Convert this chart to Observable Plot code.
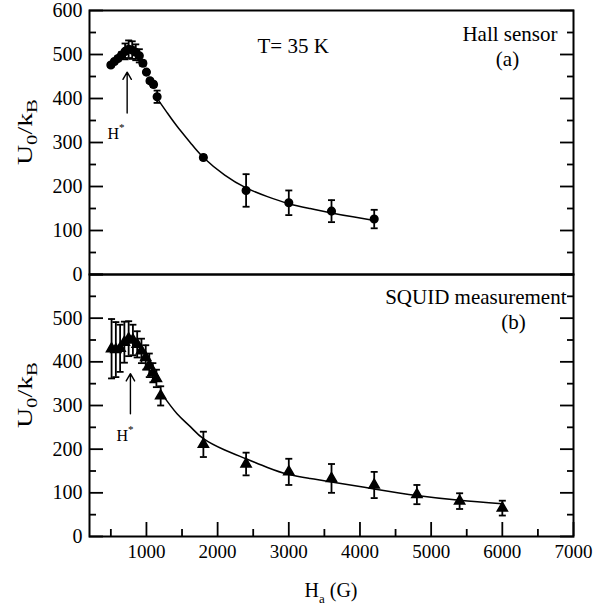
<!DOCTYPE html>
<html><head><meta charset="utf-8">
<script src="https://cdn.jsdelivr.net/npm/d3@7"></script>
<script src="https://cdn.jsdelivr.net/npm/@observablehq/plot@0.6"></script>
<style>
html,body{margin:0;padding:0;background:#fff;}
#chart{position:relative;width:611px;height:607px;background:#fff;}
#chart svg{position:absolute;left:0;}
#chart svg, #chart svg text{font-family:"Liberation Serif","Times New Roman",serif !important;}
</style></head><body><div id="chart"></div>
<script>
// ---- data ----
const hallH   = [500, 550, 600, 650, 700, 750, 800, 850, 900, 950, 1000, 1050, 1100, 1150, 1800, 2400, 3000, 3600, 4200];
const hallU   = [476, 484, 491, 499, 507, 512, 510, 505, 497, 480, 460, 440, 432, 404, 266, 191, 163, 144, 126];
const hallErr = [4, 4, 5, 6, 18, 20, 20, 18, 15, 6, 5, 5, 6, 14, 5, 37, 28, 25, 21];
const hallFitH = [1160, 1290, 1430, 1620, 1800, 2100, 2400, 2700, 3000, 3300, 3600, 3900, 4200];
const hallFitU = [398, 368, 337, 299, 266, 226, 197, 177, 161, 150, 140, 131, 123];

const squidH   = [510, 570, 630, 690, 750, 810, 870, 930, 990, 1040, 1090, 1140, 1200, 1800, 2400, 3000, 3600, 4200, 4800, 5400, 6000];
const squidU   = [430, 428, 431, 445, 453, 450, 440, 425, 410, 392, 375, 362, 322, 211, 166, 148, 133, 118, 96, 81, 65];
const squidErr = [68, 63, 54, 47, 40, 35, 30, 28, 28, 27, 22, 20, 22, 29, 26, 30, 33, 30, 22, 18, 17];
const squidFitH = [1200, 1430, 1620, 1800, 2100, 2400, 2700, 3000, 3300, 3600, 4200, 4800, 5400, 6000];
const squidFitU = [330, 281, 251, 224, 198, 178, 158, 142, 133, 125, 109, 94, 83, 75];

const xDomain = [200, 7000];
const yDomain = [0, 600];
const xMajor = [1000, 2000, 3000, 4000, 5000, 6000, 7000];
const xMinor = [500, 1500, 2500, 3500, 4500, 5500, 6500];
const yMajor = [0, 100, 200, 300, 400, 500, 600];
const yMinor = [50, 150, 250, 350, 450, 550];
const topYLabels = [0, 100, 200, 300, 400, 500, 600];
const bottomYLabels = [0, 100, 200, 300, 400, 500];

const tempLabel = ["T= 35 K"];
const topLabels = ["Hall sensor"];
const topTag = ["(a)"];
const bottomLabels = ["SQUID measurement"];
const bottomTag = ["(b)"];

// H* annotations: arrow (x, tail, head) and label anchor (x, y) in data units
const topArrow = [{x: 729, y1: 367, y2: 460}];
const bottomArrow = [{x: 775, y1: 281, y2: 373}];
const topHStar = {x: 579, y: 307};
const bottomHStar = {x: 705, y: 218};

// ---- tables ----
const hall = hallH.map((h, i) => ({h, u: hallU[i], e: hallErr[i]}));
const hallFit = hallFitH.map((h, i) => ({h, u: hallFitU[i]}));
const squid = squidH.map((h, i) => ({h, u: squidU[i], e: squidErr[i]}));
const squidFit = squidFitH.map((h, i) => ({h, u: squidFitU[i]}));

const FONT = "'Liberation Serif', 'Times New Roman', serif";
const fmt = d => String(d);
const cap = {draw(ctx, size) { const w = Math.sqrt(size / Math.PI); ctx.moveTo(-w, 0); ctx.lineTo(w, 0); }};

function frameAxes(labels) {
  const none = () => null;
  return [
    Plot.axisY({anchor: "left", ticks: yMajor, tickSize: -14, tickFormat: none, strokeWidth: 1.8, label: null}),
    Plot.axisY({anchor: "left", ticks: yMinor, tickSize: -7, tickFormat: none, strokeWidth: 1.8, label: null}),
    Plot.axisY({anchor: "right", ticks: yMajor, tickSize: -14, tickFormat: none, strokeWidth: 1.8, label: null}),
    Plot.axisY({anchor: "right", ticks: yMinor, tickSize: -7, tickFormat: none, strokeWidth: 1.8, label: null}),
    Plot.axisY({anchor: "left", ticks: labels, tickSize: 0, tickPadding: 7, tickFormat: fmt, fontSize: 20, fontFamily: FONT, label: null}),
    Plot.frame({stroke: "black", strokeWidth: 2})
  ];
}

function seriesMarks(data, fit, symbol, r) {
  return [
    Plot.line(fit, {x: "h", y: "u", curve: "natural", stroke: "black", strokeWidth: 1.5}),
    Plot.ruleX(data, {x: "h", y1: d => d.u - d.e, y2: d => d.u + d.e, stroke: "black", strokeWidth: 1.8}),
    Plot.dot(data, {x: "h", y: d => d.u - d.e, symbol: cap, r: 3.5, stroke: "black", strokeWidth: 1.8}),
    Plot.dot(data, {x: "h", y: d => d.u + d.e, symbol: cap, r: 3.5, stroke: "black", strokeWidth: 1.8}),
    Plot.dot(data, {x: "h", y: "u", symbol, r, fill: "black", stroke: "black"})
  ];
}

const txt = {fontSize: 21, fontFamily: FONT, fill: "black", lineAnchor: "top"};

const topPlot = Plot.plot({
  width: 611, height: 274,
  marginLeft: 89, marginRight: 38, marginTop: 10, marginBottom: 0,
  style: {fontFamily: FONT, fontSize: "19px", background: "transparent", overflow: "visible", color: "black"},
  x: {domain: xDomain, axis: null},
  y: {domain: yDomain, axis: null},
  marks: [
    ...seriesMarks(hall, hallFit, "circle", 3.8),
    Plot.arrow(topArrow, {x1: "x", x2: "x", y1: "y1", y2: "y2", stroke: "black", strokeWidth: 1.4, headLength: 9}),
    Plot.text(tempLabel, {...txt, text: d => d, frameAnchor: "top-left", textAnchor: "start", dx: 168, dy: 28}),
    Plot.text(topLabels, {...txt, text: d => d, frameAnchor: "top-right", textAnchor: "end", dx: -16, dy: 16}),
    Plot.text(topTag, {...txt, text: d => d, frameAnchor: "top-right", textAnchor: "middle", dx: -66, dy: 41}),
    ...frameAxes(topYLabels)
  ]
});

const bottomPlot = Plot.plot({
  width: 611, height: 333,
  marginLeft: 89, marginRight: 38, marginTop: 0, marginBottom: 71,
  style: {fontFamily: FONT, fontSize: "19px", background: "transparent", overflow: "visible", color: "black"},
  x: {domain: xDomain, axis: null},
  y: {domain: yDomain, axis: null},
  marks: [
    ...seriesMarks(squid, squidFit, "triangle", 3.8),
    Plot.arrow(bottomArrow, {x1: "x", x2: "x", y1: "y1", y2: "y2", stroke: "black", strokeWidth: 1.4, headLength: 9}),
    Plot.text(bottomLabels, {...txt, text: d => d, frameAnchor: "top-right", textAnchor: "end", dx: -7, dy: 15}),
    Plot.text(bottomTag, {...txt, text: d => d, frameAnchor: "top-right", textAnchor: "middle", dx: -60, dy: 40}),
    Plot.axisX({anchor: "bottom", ticks: xMajor, tickSize: -14, tickFormat: () => null, strokeWidth: 1.8, label: null}),
    Plot.axisX({anchor: "bottom", ticks: xMinor, tickSize: -7, tickFormat: () => null, strokeWidth: 1.8, label: null}),
    Plot.axisX({anchor: "bottom", ticks: xMajor, tickSize: 0, tickPadding: 8, tickFormat: fmt, fontSize: 19, fontFamily: FONT, label: null}),
    ...frameAxes(bottomYLabels)
  ]
});

const chart = document.getElementById("chart");
topPlot.style.top = "0px";
bottomPlot.style.top = "274px";
chart.appendChild(topPlot);
chart.appendChild(bottomPlot);

// ---- labels with sub/superscripts ----
function yLabel(plot, top, bottom) {
  const cy = (top + bottom) / 2 - 10;
  const t = d3.select(plot).append("text")
    .attr("transform", `translate(31.5,${cy}) rotate(-90)`)
    .attr("text-anchor", "middle").style("font-family", FONT).attr("font-size", 20).attr("fill", "black")
    .attr("textLength", 66).attr("lengthAdjust", "spacingAndGlyphs");
  t.append("tspan").text("U");
  t.append("tspan").attr("font-size", 15).attr("dy", 5).text("0");
  t.append("tspan").attr("dy", -5).text("/k");
  t.append("tspan").attr("font-size", 15).attr("dy", 5).text("B");
}
yLabel(topPlot, 10, 274);
yLabel(bottomPlot, 0, 262);

function hStar(plot, pos) {
  const x = plot.scale("x").apply(pos.x), y = plot.scale("y").apply(pos.y);
  const t = d3.select(plot).append("text").attr("x", x).attr("y", y)
    .style("font-family", FONT).attr("font-size", 16).attr("fill", "black");
  t.append("tspan").text("H");
  t.append("tspan").attr("font-size", 11).attr("dy", -8).text("*");
}
hStar(topPlot, topHStar);
hStar(bottomPlot, bottomHStar);

{
  const t = d3.select(bottomPlot).append("text")
    .attr("x", (89 + 573) / 2).attr("y", 323)
    .attr("text-anchor", "middle").style("font-family", FONT).attr("font-size", 20).attr("fill", "black");
  t.append("tspan").text("H");
  t.append("tspan").attr("font-size", 13).attr("dy", 6).text("a");
  t.append("tspan").attr("dy", -6).text(" (G)");
}
</script></body></html>
